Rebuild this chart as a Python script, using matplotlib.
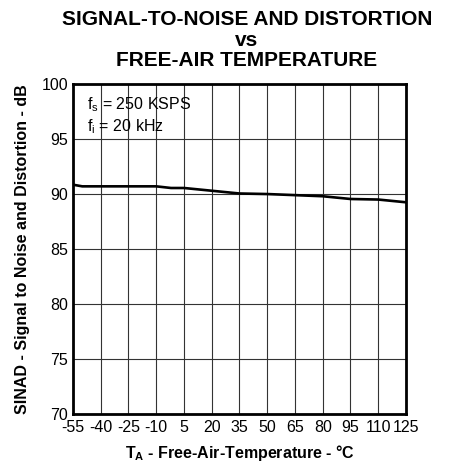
import numpy as np
import matplotlib
matplotlib.use('Agg')
import matplotlib.pyplot as plt

plt.rcParams['font.family'] = ['Liberation Sans', 'DejaVu Sans']
plt.rcParams['axes.unicode_minus'] = False

temperature = [-55, -50, -10, -2, 5, 20, 35, 50, 65, 80, 95, 110, 125]
sinad = [90.85, 90.7, 90.7, 90.55, 90.55, 90.3, 90.05, 90.0, 89.9, 89.8, 89.55, 89.5, 89.25]

x_ticks = np.arange(-55, 126, 15)
y_ticks = np.arange(70, 101, 5)


def main():
    fig = plt.figure(figsize=(4.52, 4.66), dpi=100)
    ax = fig.add_axes([0.1615, 0.1116, 0.7367, 0.708])

    ax.plot(temperature, sinad, color='black', linewidth=1.9, solid_joinstyle='round')

    ax.set_xlim(-55, 125)
    ax.set_ylim(70, 100)
    ax.set_xticks(x_ticks)
    ax.set_yticks(y_ticks)
    ax.tick_params(length=0, labelsize=11.5)
    ax.tick_params(axis='x', pad=4)
    ax.tick_params(axis='y', pad=3.5)
    ax.grid(True, color='#333333', linewidth=0.8)
    ax.set_axisbelow(True)
    for side in ['top', 'right', 'bottom', 'left']:
        ax.spines[side].set_linewidth(2.0)

    ax.text(0.043, 0.923, '$\\mathregular{f_s}$ = 250 KSPS', transform=ax.transAxes, fontsize=11.5, va='baseline')
    ax.text(0.043, 0.858, '$\\mathregular{f_i}$ = 20 kHz', transform=ax.transAxes, fontsize=11.5, va='baseline')

    ax.set_xlabel('$\\mathregular{T_A}$ - Free-Air-Temperature - \u00b0C', fontsize=11.5, fontweight='bold', labelpad=6)
    ax.set_ylabel('SINAD - Signal to Noise and Distortion - dB', fontsize=11.5, fontweight='bold', labelpad=8)

    fig.text(0.546, 0.9464, 'SIGNAL-TO-NOISE AND DISTORTION', ha='center', va='baseline', fontsize=15, fontweight='bold')
    fig.text(0.546, 0.9013, 'vs', ha='center', va='baseline', fontsize=15, fontweight='bold')
    fig.text(0.546, 0.8594, 'FREE-AIR TEMPERATURE', ha='center', va='baseline', fontsize=15, fontweight='bold')

    fig.savefig('out.png', dpi=100)
    plt.close(fig)


if __name__ == '__main__':
    main()
